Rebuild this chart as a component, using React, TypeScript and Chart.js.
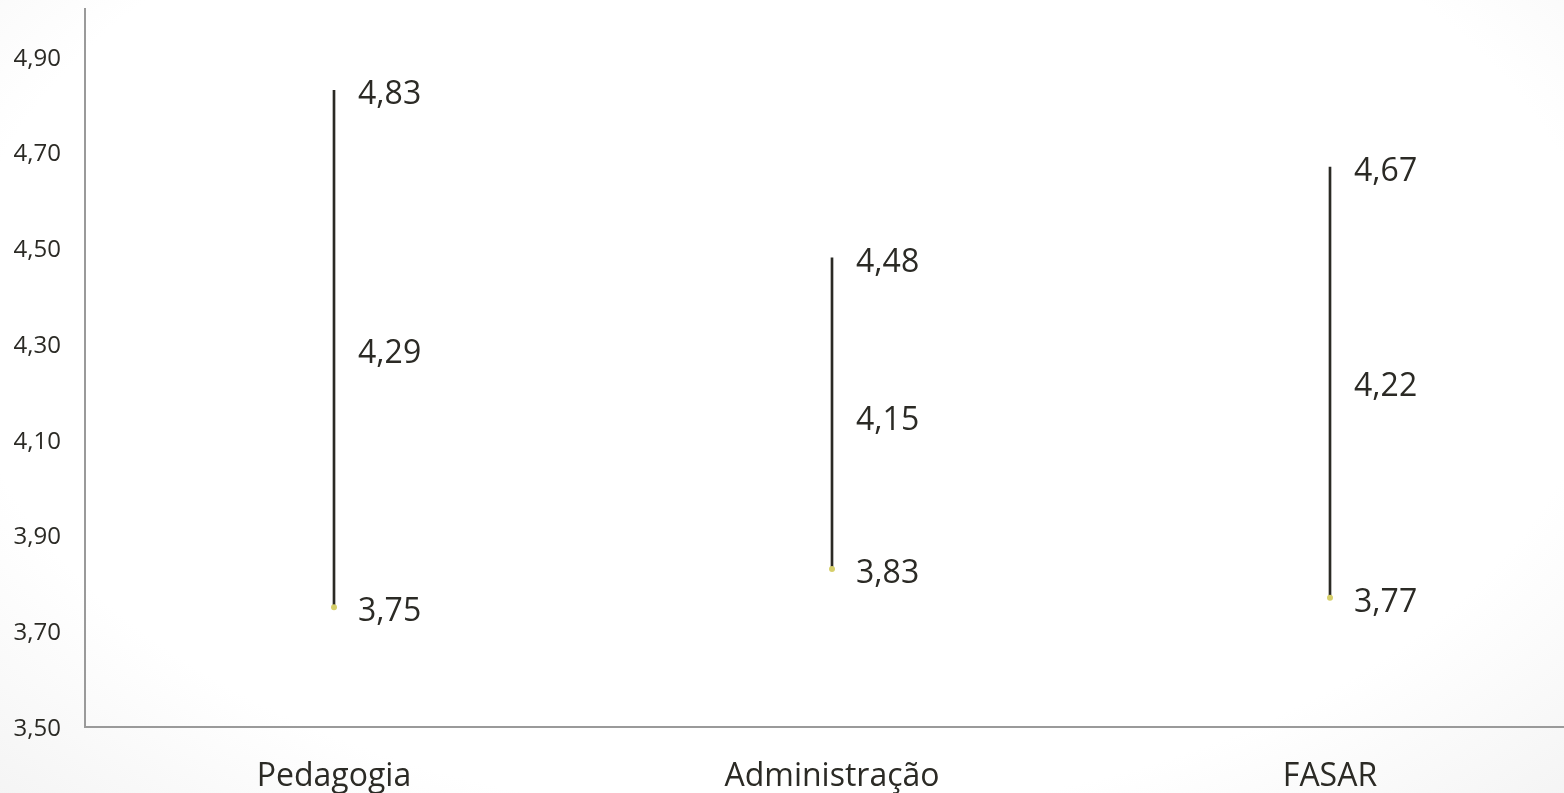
import React, { useEffect, useRef } from "react";
import { Chart, registerables } from "chart.js";

Chart.register(...registerables);

const categories = ["Pedagogia", "Administração", "FASAR"];
const highValues = [4.83, 4.48, 4.67];
const lowValues = [3.75, 3.83, 3.77];
const closeValues = [4.29, 4.15, 4.22];
const yTicks = [3.5, 3.7, 3.9, 4.1, 4.3, 4.5, 4.7, 4.9];

const TEXT = "#2b2a25";
const AXIS = "#9a9a9a";
const fmt = (v: number) => v.toFixed(2).replace(".", ",");

const labelPlugin = {
  id: "hlcLabels",
  afterDatasetsDraw(chart: any) {
    const { ctx, scales } = chart;
    const x = scales.x;
    const y = scales.y;
    ctx.save();
    ctx.font = '32px "Open Sans"';
    ctx.fillStyle = TEXT;
    ctx.textAlign = "left";
    ctx.textBaseline = "middle";
    categories.forEach((_, i) => {
      const px = x.getPixelForValue(i) + 24;
      [highValues[i], closeValues[i], lowValues[i]].forEach((v) => {
        ctx.fillText(fmt(v), px, y.getPixelForValue(v) + 5);
      });
    });
    ctx.restore();
  },
};

export default function App() {
  const ref = useRef<HTMLCanvasElement>(null);
  useEffect(() => {
    if (!ref.current) return;
    const chart = new Chart(ref.current, {
      type: "bar",
      data: {
        labels: categories,
        datasets: [
          {
            type: "bar",
            data: categories.map((_, i) => [lowValues[i], highValues[i]]) as any,
            backgroundColor: TEXT,
            borderWidth: 0,
            barThickness: 2,
            grouped: false,
            order: 2,
          } as any,
          {
            type: "line",
            data: lowValues,
            showLine: false,
            pointRadius: 3,
            pointBackgroundColor: "#d6cf6a",
            pointBorderWidth: 0,
            order: 1,
          } as any,
        ],
      },
      options: {
        animation: false,
        responsive: true,
        maintainAspectRatio: false,
        layout: { padding: { left: 0, right: 21, top: 9, bottom: 0 } },
        plugins: { legend: { display: false }, tooltip: { enabled: false } },
        scales: {
          x: {
            type: "category",
            offset: true,
            grid: { display: false, drawTicks: false },
            border: { display: true, color: AXIS, width: 2 },
            ticks: {
              color: TEXT,
              font: { family: '"Open Sans"', size: 32 },
              padding: 31,
              maxRotation: 0,
            },
            afterFit(scale: any) {
              scale.height = 66;
              scale.paddingLeft = 0;
              scale.paddingRight = 0;
            },
          },
          y: {
            type: "linear",
            min: 3.5,
            max: 5.0,
            grid: { display: false, drawTicks: false },
            border: { display: true, color: AXIS, width: 2 },
            ticks: {
              color: TEXT,
              font: { family: '"Open Sans"', size: 24 },
              padding: 24,
              labelOffset: 2,
              callback: (v: any) => fmt(Number(v)),
            },
            afterBuildTicks(scale: any) {
              scale.ticks = yTicks.map((v) => ({ value: v }));
            },
            afterFit(scale: any) {
              scale.width = 85;
              scale.paddingTop = 0;
              scale.paddingBottom = 0;
            },
          },
        },
      } as any,
      plugins: [labelPlugin],
    });
    return () => chart.destroy();
  }, []);

  return (
    <div
      style={{
        position: "fixed",
        left: 0,
        top: 0,
        width: 1564,
        height: 793,
        overflow: "hidden",
        background:
          "radial-gradient(ellipse 75% 90% at 50% 40%, #ffffff 70%, #f2f2f2 100%)",
      }}
    >
      <div style={{ position: "absolute", left: 0, top: 0, width: 1600, height: 793 }}>
        <canvas ref={ref} />
      </div>
    </div>
  );
}
